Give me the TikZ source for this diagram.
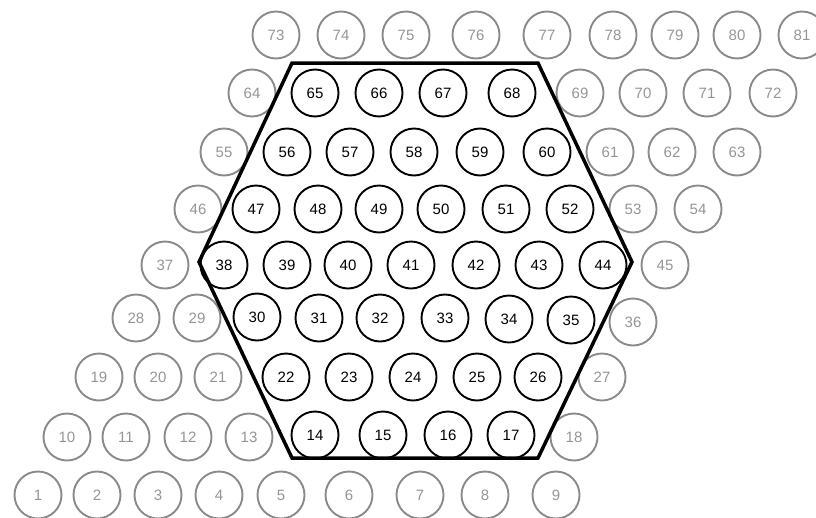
\documentclass[tikz,border=0pt]{standalone}
\usepackage{fontspec}
\setmainfont{Liberation Sans}
\definecolor{ringgray}{HTML}{8A8A8A}
\definecolor{textgray}{HTML}{959595}
\begin{document}
\begin{tikzpicture}[x=1pt,y=-1pt,
  cell/.style={circle,minimum size=47pt,inner sep=0pt,line width=1.9pt,font=\fontsize{15}{15}\selectfont},
  outcell/.style={cell,draw=ringgray,text=textgray},
  incell/.style={cell,draw=black,text=black},
  hexline/.style={line width=3.5pt,line join=miter}]
\useasboundingbox (0,0) rectangle (816,517);
% outer cells
\foreach \n/\x/\y in {1/38/495,2/97/495,3/158/495,4/219/495,5/281/495,6/349/495,7/420/495,8/485/495,9/556/495,
  10/67/437,11/126/437,12/188/437,13/249/437,18/574/437,
  19/99/377,20/158/377,21/218/377,27/602/377,
  28/136/318,29/197/318,36/633/322,
  37/165/265,45/665/265,
  46/198/209,53/633/209,54/698/209,
  55/224/152,61/610/152,62/672/152,63/737/152,
  64/252/93,69/580/93,70/643/93,71/707/93,72/773/93,
  73/276/35,74/341/35,75/406/35,76/476/35,77/547/35,78/613/35,79/675/35,80/737/35,81/802/35}
  \node[outcell] (c\n) at (\x,\y) {\n};
% inner cells
\foreach \n/\x/\y in {14/315/435,15/383/435,16/448/435,17/511/435,
  22/286/377,23/349/377,24/413/377,25/477/377,26/538/377,
  30/257/317,31/319/318,32/380/318,33/445/318,34/509/319,35/571/320,
  38/224/265,39/287/265,40/348/265,41/411/265,42/476/265,43/539/265,44/603/265,
  47/256/209,48/318/209,49/379/209,50/441/209,51/506/209,52/570/209,
  56/287/152,57/350/152,58/414/152,59/480/152,60/547/152,
  65/315/93,66/379/93,67/443/93,68/512/93}
  \node[incell] (c\n) at (\x,\y) {\n};
% hexagon
\coordinate (h1) at (292,63);
\coordinate (h2) at (538,63);
\coordinate (h3) at (632,262);
\coordinate (h4) at (538,458);
\coordinate (h5) at (292,458);
\coordinate (h6) at (199,262);
\draw[hexline] (h1) -- (h2) -- (h3) -- (h4) -- (h5) -- (h6) -- cycle;
\end{tikzpicture}
\end{document}
